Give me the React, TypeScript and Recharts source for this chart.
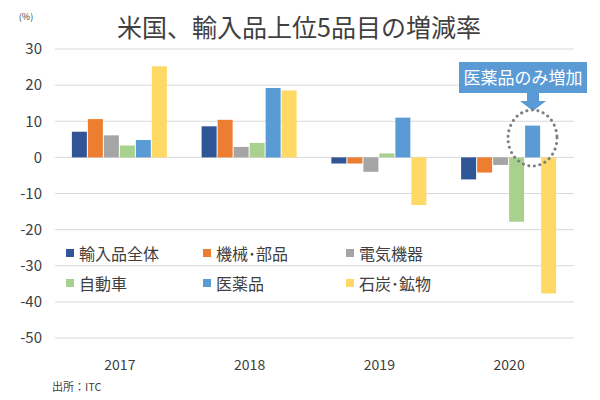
import { BarChart, Bar, XAxis, YAxis, CartesianGrid } from "recharts"

const years = ["2017", "2018", "2019", "2020"]

const seriesNames = ["輸入品全体", "機械･部品", "電気機器", "自動車", "医薬品", "石炭･鉱物"]
const total = [7.1, 8.6, -1.7, -6.1]
const machinery = [10.6, 10.4, -1.7, -4.2]
const electrical = [6.1, 2.9, -4.0, -2.1]
const autos = [3.3, 4.0, 1.1, -17.8]
const pharma = [4.8, 19.2, 11.0, 8.8]
const coal = [25.2, 18.5, -13.2, -37.7]

const yTicks = [30, 20, 10, 0, -10, -20, -30, -40, -50]

const COLORS = ["#2F5597", "#ED7D31", "#A5A5A5", "#A9D18E", "#5B9BD5", "#FFD966"]
const FONT = "'Noto Sans CJK JP', 'Noto Sans', sans-serif"

const allSeries = [total, machinery, electrical, autos, pharma, coal]
const data = years.map((year, i) => {
  const row: Record<string, string | number> = { year }
  seriesNames.forEach((name, s) => {
    row[name] = allSeries[s][i]
  })
  return row
})

function LegendBox() {
  return (
    <div
      style={{
        position: "absolute",
        top: 242,
        left: 66,
        display: "grid",
        gridTemplateColumns: "137px 143px 140px",
        rowGap: 8,
        fontFamily: FONT,
        fontSize: 16,
        color: "#404040",
        pointerEvents: "none",
      }}
    >
      {seriesNames.map((name, i) => (
        <div key={name} style={{ display: "flex", alignItems: "center", height: 22 }}>
          <span
            style={{
              display: "inline-block",
              width: 8,
              height: 8,
              background: COLORS[i],
              marginRight: 5,
            }}
          />
          {name}
        </div>
      ))}
    </div>
  )
}

export default function App() {
  return (
    <div style={{ position: "fixed", top: 0, left: 0, width: 600, height: 400, background: "#fff" }}>
      <BarChart
        width={600}
        height={400}
        data={data}
        margin={{ top: 49, right: 26, bottom: 32, left: 0 }}
        barCategoryGap="13%"
        barGap={1}
      >
        <CartesianGrid vertical={false} stroke="#D9D9D9" />
        <XAxis
          dataKey="year"
          axisLine={false}
          tickLine={false}
          tickMargin={16}
          tick={{ fill: "#404040", fontSize: 14, fontFamily: FONT }}
        />
        <YAxis
          width={55}
          domain={[-50, 30]}
          ticks={yTicks}
          axisLine={false}
          tickLine={false}
          tickMargin={7}
          interval={0}
          tick={{ fill: "#404040", fontSize: 15, fontFamily: FONT }}
        />
        {seriesNames.map((name, i) => (
          <Bar key={name} dataKey={name} fill={COLORS[i]} isAnimationActive={false} />
        ))}
      </BarChart>
      <LegendBox />
      <svg
        width={600}
        height={400}
        style={{ position: "absolute", top: 0, left: 0, pointerEvents: "none" }}
        fontFamily={FONT}
      >
        <text x={299} y={37} textAnchor="middle" fontSize={25} fill="#404040">
          米国、輸入品上位5品目の増減率
        </text>
        <text x={26} y={20} textAnchor="middle" fontSize={9} fill="#404040">
          (%)
        </text>
        <text x={52} y={391} fontSize={11} fill="#404040">
          出所：ITC
        </text>
        <rect x={459} y={62} width={128} height={31} fill="#5B9BD5" />
        <text x={523} y={84} textAnchor="middle" fontSize={17} fill="#fff">
          医薬品のみ増加
        </text>
        <polygon points="527,93 539,93 539,101 546,101 533,111 520,101 527,101" fill="#5B9BD5" />
        <ellipse
          cx={532.5}
          cy={138}
          rx={24.5}
          ry={28}
          fill="none"
          stroke="#7F7F7F"
          strokeWidth={3}
          strokeDasharray="0.1 5.5"
          strokeLinecap="round"
        />
      </svg>
    </div>
  )
}
